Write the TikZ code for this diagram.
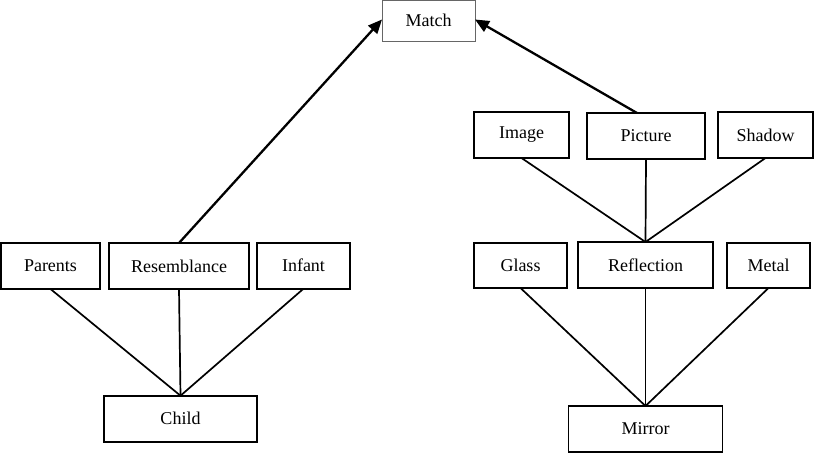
\documentclass[tikz,border=0pt]{standalone}
\usepackage{fontspec}
\setmainfont{Liberation Serif}
\usetikzlibrary{arrows.meta}
\begin{document}
\begin{tikzpicture}[x=1pt,y=-1pt,
  box/.style={draw,line width=1.8pt,rectangle,inner sep=0pt,outer sep=0pt,font=\fontsize{18}{21}\selectfont},
  topbox/.style={draw=black!60,line width=0.9pt,rectangle,inner sep=0pt,outer sep=0pt,font=\fontsize{18}{21}\selectfont},
  link/.style={line width=1.7pt},
  arr/.style={line width=2.3pt,-{Triangle[length=14pt,width=12pt]}}]
\useasboundingbox (0,0) rectangle (827,454);
\node[topbox,minimum width=93pt,minimum height=41pt] (match) at (428.5,20.5) {Match};
% left tree
\node[box,minimum width=99pt,minimum height=46pt] (parents) at (50.5,266) {Parents};
\node[box,minimum width=140pt,minimum height=46pt] (resemblance) at (179,266) {Resemblance};
\node[box,minimum width=93pt,minimum height=46pt] (infant) at (303.5,265.7) {Infant};
\node[box,minimum width=153pt,minimum height=46pt] (child) at (180.5,418.7) {Child};
% right tree
\node[box,minimum width=95pt,minimum height=46pt] (image) at (521.5,135) {Image};
\node[box,minimum width=118pt,minimum height=46pt] (picture) at (646,136) {Picture};
\node[box,minimum width=95pt,minimum height=46pt] (shadow) at (765.5,135) {Shadow};
\node[box,minimum width=93pt,minimum height=45pt] (glass) at (520.5,265.5) {Glass};
\node[box,minimum width=135pt,minimum height=46pt] (reflection) at (645.5,265) {Reflection};
\node[box,minimum width=83pt,minimum height=45pt] (metal) at (768.5,265.5) {Metal};
\node[box,minimum width=154pt,minimum height=46pt] (mirror) at (645.5,429) {Mirror};
% connectors
\draw[link] (parents.south) -- (child.north);
\draw[link] (resemblance.south) -- (child.north);
\draw[link] (infant.south) -- (child.north);
\draw[link] (image.south) -- (reflection.north);
\draw[link] (picture.south) -- (reflection.north);
\draw[link] (shadow.south) -- (reflection.north);
\draw[link] (glass.south) -- (mirror.north);
\draw[link] (reflection.south) -- (mirror.north);
\draw[link] (metal.south) -- (mirror.north);
\draw[arr] (resemblance.north) -- ([yshift=1pt]match.west);
\coordinate (pstart) at ([xshift=-9pt]picture.north);
\draw[arr] (pstart) -- ([yshift=1pt]match.east);
\end{tikzpicture}
\end{document}
